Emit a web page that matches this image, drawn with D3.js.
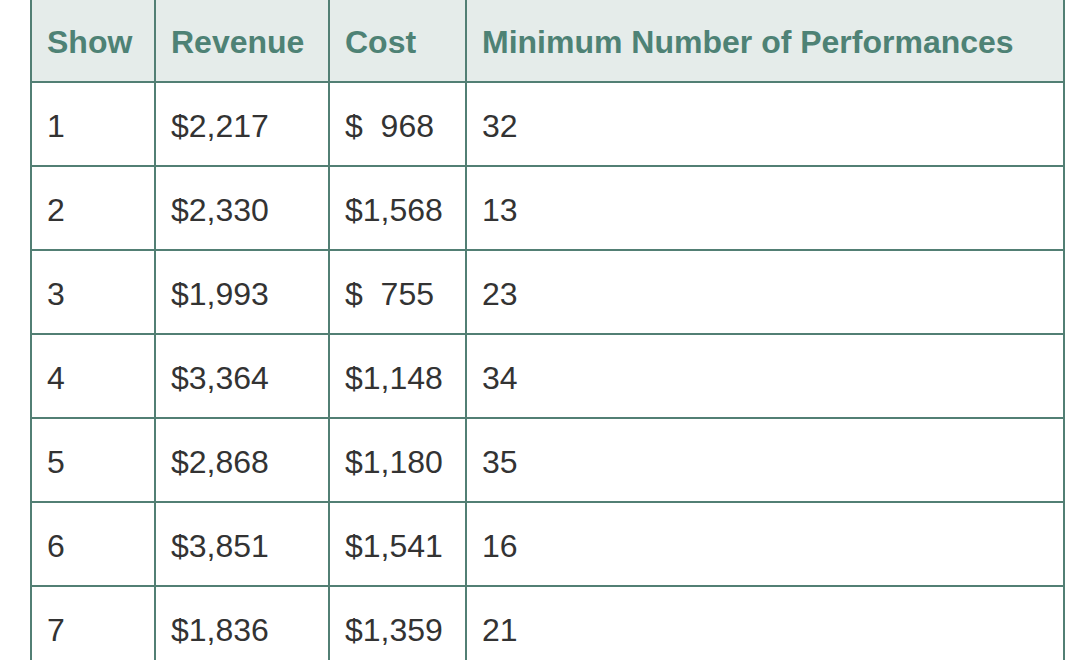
<!DOCTYPE html>
<html>
<head>
<meta charset="utf-8">
<script src="https://cdn.jsdelivr.net/npm/d3@7"></script>
<style>
  html, body { margin: 0; padding: 0; background: #fff; overflow: hidden; }
  svg { display: block; }
</style>
</head>
<body>
<div class="table-container"></div>
<script>
// 表格資料
const headers = ['Show', 'Revenue', 'Cost', 'Minimum Number of Performances'];
const shows = [1, 2, 3, 4, 5, 6, 7];
const revenue = [2217, 2330, 1993, 3364, 2868, 3851, 1836];
const cost = [968, 1568, 755, 1148, 1180, 1541, 1359];
const minPerformances = [32, 13, 23, 34, 35, 16, 21];

// 金額格式 ($ 968 以空白補齊)
const fmtMoney = v => v < 1000 ? '$  ' + v : '$' + d3.format(',')(v);

const rows = shows.map((s, i) => [
    String(s), fmtMoney(revenue[i]), fmtMoney(cost[i]), String(minPerformances[i])
]);

function drawTable() {
    const svg_width = 1092;
    const svg_height = 660;
    const borderColor = '#527f74';
    const headerBg = '#e5ecea';
    const headerColor = '#4e8275';
    const bodyColor = '#333333';
    const fontSize = 32;

    const svg = d3.select('.table-container')
        .append('svg')
        .attr('width', svg_width).attr('height', svg_height);

    // 欄位邊界
    const colEdges = [31, 155, 329, 466, 1064];
    const xScale = d3.scaleOrdinal().domain(headers).range(colEdges.slice(0, 4));
    const colWidth = h => colEdges[headers.indexOf(h) + 1] - xScale(h);

    // 列: header + 每個 show
    const rowKeys = ['header'].concat(shows.map(String));
    const yScale = d3.scaleBand()
        .domain(rowKeys)
        .range([-2, -2 + 84 * rowKeys.length])
        .paddingInner(0).paddingOuter(0);

    // header 背景
    svg.append('rect')
        .attr('x', colEdges[0]).attr('y', yScale('header'))
        .attr('width', colEdges[4] - colEdges[0])
        .attr('height', yScale.bandwidth())
        .style('fill', headerBg);

    // header 文字
    svg.append('g').attr('class', 'header')
        .selectAll('text')
        .data(headers).enter()
        .append('text')
            .attr('x', d => xScale(d) + 16)
            .attr('y', yScale('header') + 55)
            .text(d => d)
            .style('font-family', '"Liberation Sans", Arial, Helvetica, sans-serif')
            .style('font-size', fontSize + 'px')
            .style('font-weight', 'bold')
            .style('fill', headerColor);

    // 內容文字
    const rowGroups = svg.append('g').attr('class', 'body')
        .selectAll('g')
        .data(rows).enter()
        .append('g')
            .attr('transform', (d, i) => `translate(0,${yScale(String(shows[i]))})`);
    rowGroups.selectAll('text')
        .data(d => d.map((v, j) => ({ col: headers[j], value: v })))
        .enter()
        .append('text')
            .attr('x', d => xScale(d.col) + 16)
            .attr('y', 55)
            .attr('xml:space', 'preserve')
            .style('white-space', 'pre')
            .text(d => d.value)
            .style('font-family', '"Liberation Sans", Arial, Helvetica, sans-serif')
            .style('font-size', fontSize + 'px')
            .style('fill', bodyColor);

    // 格線 - 水平
    const lineGroup = svg.append('g').attr('class', 'grid')
        .style('stroke', borderColor).style('stroke-width', 2);
    lineGroup.selectAll('.hline')
        .data(rowKeys).enter()
        .append('line')
            .attr('class', 'hline')
            .attr('x1', colEdges[0]).attr('x2', colEdges[4])
            .attr('y1', d => yScale(d) + yScale.bandwidth())
            .attr('y2', d => yScale(d) + yScale.bandwidth());
    lineGroup.append('line')
        .attr('x1', colEdges[0]).attr('x2', colEdges[4])
        .attr('y1', yScale('header')).attr('y2', yScale('header'));
    // 格線 - 垂直
    lineGroup.selectAll('.vline')
        .data(colEdges).enter()
        .append('line')
            .attr('class', 'vline')
            .attr('x1', d => d).attr('x2', d => d)
            .attr('y1', yScale('header'))
            .attr('y2', svg_height + 20);
}

drawTable();
</script>
</body>
</html>
